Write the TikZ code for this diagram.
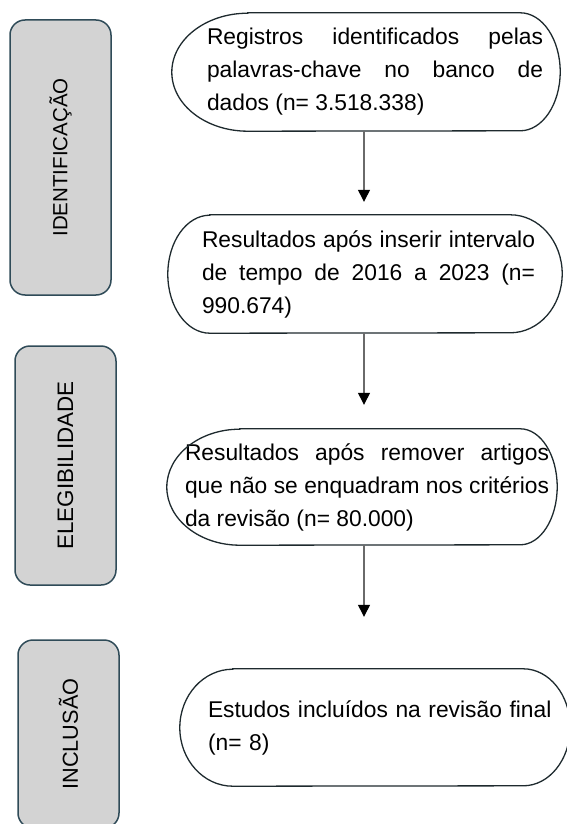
\documentclass[tikz,border=0pt]{standalone}
\usepackage{fontspec}
\setmainfont{Liberation Sans}
\usetikzlibrary{arrows.meta}
\definecolor{faseborda}{HTML}{2F4B58}
\definecolor{fasefundo}{HTML}{D3D3D3}
\definecolor{setacinza}{HTML}{6A6A6A}
\definecolor{etapaborda}{HTML}{1E2A2E}
\hyphenpenalty=10000
\exhyphenpenalty=10000
\begin{document}
\begin{tikzpicture}[x=1pt,y=-1pt,
  every node/.style={font=\fontsize{22.8}{33}\selectfont},
  fase/.style={draw=faseborda,fill=fasefundo,line width=1.5pt,rounded corners=15pt,rotate=90,minimum height=101pt,inner sep=0pt},
  etapa/.style={inner sep=0pt,minimum height=118pt,align=justify},
  borda/.style={draw=etapaborda,line width=1.3pt},
  seta/.style={draw=setacinza,line width=1.3pt,-{Triangle[length=12pt,width=12pt,color=black]}}]
\useasboundingbox (0,0) rectangle (566,824);
% fases
\node[fase,minimum width=275pt,font=\fontsize{20.5}{24}\selectfont] (f1) at (60.5,157.5) {IDENTIFICAÇÃO};
\node[fase,minimum width=239pt,font=\fontsize{22.4}{26}\selectfont] (f2) at (65.5,465.5) {ELEGIBILIDADE};
\node[fase,minimum width=188pt,font=\fontsize{21.7}{25}\selectfont] (f3) at (68.5,734) {INCLUSÃO};
% etapas
\node[etapa,text width=336pt] (e1) at (375,72)
  {Registros identificados pelas\linebreak palavras-chave no banco de\linebreak dados (n= 3.518.338)};
\node[etapa,text width=333pt] (e2) at (368.5,274)
  {Resultados após inserir intervalo\linebreak de tempo de 2016 a 2023 (n=\linebreak 990.674)};
\node[etapa,text width=364pt,minimum height=116pt] (e3) at (367,487)
  {Resultados após remover artigos\linebreak que não se enquadram nos critérios\linebreak da revisão (n= 80.000)};
\node[etapa,text width=345pt,minimum height=117pt,align=left] (e4) at (380.5,727.5)
  {Estudos incluídos na revisão final\\(n= 8)};
% contornos: nome/margem esq./margem dir./raio esq./raio dir./meia altura
\foreach \n/\l/\r/\rl/\rr/\h in {e1/35/17/76/40/59, e2/34/27/42/52/59, e3/18/8/73/37/58, e4/28/17/53/47/58.5}
  \draw[borda] ([xshift=\rl pt-\l pt]\n.north west) -- ([xshift=\r pt-\rr pt]\n.north east)
    arc[start angle=90,end angle=-90,x radius=\rr pt,y radius=\h pt]
    -- ([xshift=\rl pt-\l pt]\n.south west)
    arc[start angle=270,end angle=90,x radius=\rl pt,y radius=\h pt] -- cycle;
% setas
\coordinate (eixo) at (364,0);
\coordinate (p2) at ([yshift=13pt]e2.north);
\coordinate (p3) at ([yshift=24pt]e3.north);
\coordinate (p4) at ([yshift=52pt]e4.north);
\draw[seta] (e1.south -| eixo) -- (p2 -| eixo);
\draw[seta] (e2.south -| eixo) -- (p3 -| eixo);
\draw[seta] (e3.south -| eixo) -- (p4 -| eixo);
\end{tikzpicture}
\end{document}
